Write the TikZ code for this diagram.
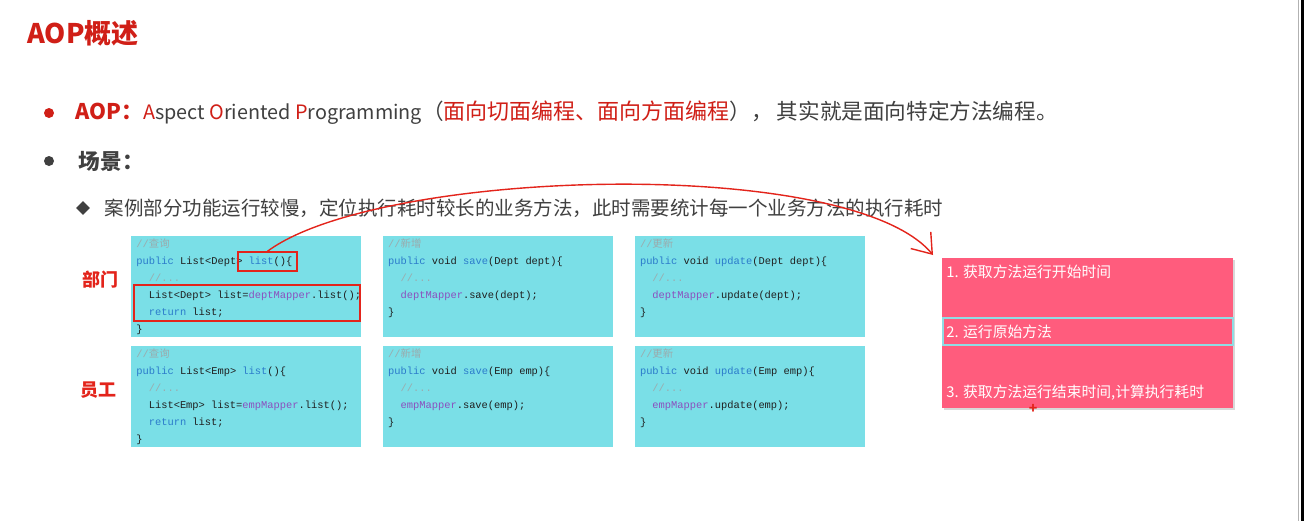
\documentclass[tikz,border=0pt]{standalone}
\usepackage{fontspec}
\setmainfont{Noto Sans CJK SC}
\newfontfamily\codefont{Liberation Mono}
\newfontfamily\cjkfont{Noto Sans CJK SC}
\usepackage{tikz}
\usetikzlibrary{arrows.meta,positioning,shapes.geometric,shadows}
\definecolor{aopRed}{HTML}{D01F17}
\definecolor{slideText}{HTML}{404040}
\definecolor{codeCyan}{HTML}{7ADFE7}
\definecolor{codeBlue}{HTML}{2B7BCB}
\definecolor{codePurple}{HTML}{8B4FBE}
\definecolor{codeGray}{HTML}{9AABAD}
\definecolor{codeInk}{HTML}{1F1F1F}
\definecolor{inkRed}{HTML}{E3241B}
\definecolor{stepPink}{HTML}{FF5C7D}
\definecolor{stepCyan}{HTML}{8EDDE4}
\newcommand\kw[1]{\textcolor{codeBlue}{#1}}
\newcommand\mapr[1]{\textcolor{codePurple}{#1}}
\newcommand\cmt[1]{\textcolor{codeGray}{#1}}
\newcommand\ind{\hspace*{6.2pt}}
\newcommand\codeblock[1]{\begin{minipage}[t][48pt][t]{110pt}\codefont\fontsize{5.2}{8.5}\selectfont\color{codeInk}#1\end{minipage}}
\tikzset{
  codebox/.style={
    fill=codeCyan,
    minimum width=115pt,
    minimum height=50.5pt,
    inner xsep=2pt,
    inner ysep=1.25pt,
    anchor=north west
  },
  bodytext/.style={
    font=\fontsize{9.75}{12}\selectfont,
    text=slideText,
    inner sep=0pt,
    anchor=west
  },
  dot/.style={circle, minimum size=5pt, inner sep=0pt},
  handlabel/.style={font=\fontsize{9}{10}\selectfont\bfseries, text=inkRed, inner sep=0pt},
  hilite/.style={draw=inkRed, line width=0.75pt, inner sep=0pt},
  stepbox/.style={
    fill=stepPink,
    minimum width=145.5pt,
    minimum height=75pt,
    drop shadow={shadow xshift=1.2pt, shadow yshift=-1.2pt, opacity=0.3}
  },
  steptext/.style={font=\fontsize{7.4}{9}\selectfont, text=white, inner sep=0pt, anchor=west},
  stepframe/.style={
    draw=stepCyan,
    line width=1pt,
    minimum width=145pt,
    minimum height=13.5pt,
    inner sep=0pt
  },
  inkarrow/.style={-{Straight Barb[length=9pt,width=13pt]}, line width=0.7pt, draw=inkRed}
}

\begin{document}
\begin{tikzpicture}[x=0.5pt, y=-0.5pt, node distance=4pt and 10.5pt]
  \fill[white] (0,0) rectangle (1304,521);
  \useasboundingbox (0,0) rectangle (1304,521);

  \node[font=\fontsize{13.5}{16}\selectfont\bfseries, text=aopRed, inner sep=0pt, anchor=west] (title) at (27,33) {AOP概述};

  \node[dot, fill=aopRed] (dotAop) at (49,113) {};
  \node[bodytext, font=\fontsize{10.8}{13}\selectfont, right=10.5pt of dotAop] (aopLine) {\textcolor{aopRed}{\bfseries AOP：}{\fontsize{9.9}{12}\selectfont\textcolor{aopRed}{A}spect \textcolor{aopRed}{O}riented \textcolor{aopRed}{P}rogramming}（\textcolor{aopRed}{\fontsize{11}{13}\selectfont 面向切面编程、面向方面编程}），\hspace{2pt}其实就是面向特定方法编程。};
  \node[dot, fill=slideText] (dotScene) at (49,161) {};
  \node[bodytext, font=\fontsize{10.8}{13}\selectfont\bfseries, right=12pt of dotScene] (sceneHead) {场景：};
  \node[diamond, fill=slideText, minimum size=7pt, inner sep=0pt] (diaCase) at (83,208) {};
  \node[bodytext, right=7pt of diaCase] (caseLine) {案例部分功能运行较慢，定位执行耗时较长的业务方法，此时需要统计每一个业务方法的执行耗时};

  \node[handlabel] (deptTag) at (100,280) {部门};
  \node[handlabel] (empTag) at (98,390) {员工};

  \node[codebox] (deptList) at (131,236) {\codeblock{\cmt{//{\cjkfont 查询}}\\
\kw{public} List<Dept> \kw{list}()\{\\
\ind\cmt{//...}\\
\mbox{\ind List<Dept> list=\mapr{deptMapper}.list();}\\
\ind\kw{return} list;\\
\}}};
  \node[codebox, right=of deptList] (deptSave) {\codeblock{\cmt{//{\cjkfont 新增}}\\
\kw{public} void \kw{save}(Dept dept)\{\\
\ind\cmt{//...}\\
\ind\mapr{deptMapper}.save(dept);\\
\}}};
  \node[codebox, right=of deptSave] (deptUpdate) {\codeblock{\cmt{//{\cjkfont 更新}}\\
\kw{public} void \kw{update}(Dept dept)\{\\
\ind\cmt{//...}\\
\ind\mapr{deptMapper}.update(dept);\\
\}}};
  \node[codebox, below=of deptList] (empList) {\codeblock{\cmt{//{\cjkfont 查询}}\\
\kw{public} List<Emp> \kw{list}()\{\\
\ind\cmt{//...}\\
\mbox{\ind List<Emp> list=\mapr{empMapper}.list();}\\
\ind\kw{return} list;\\
\}}};
  \node[codebox, below=of deptSave] (empSave) {\codeblock{\cmt{//{\cjkfont 新增}}\\
\kw{public} void \kw{save}(Emp emp)\{\\
\ind\cmt{//...}\\
\ind\mapr{empMapper}.save(emp);\\
\}}};
  \node[codebox, below=of deptUpdate] (empUpdate) {\codeblock{\cmt{//{\cjkfont 更新}}\\
\kw{public} void \kw{update}(Emp emp)\{\\
\ind\cmt{//...}\\
\ind\mapr{empMapper}.update(emp);\\
\}}};

  \node[hilite, minimum width=29.5pt, minimum height=9.5pt] (listSig) at (267.5,261.5) {};
  \node[hilite, minimum width=113pt, minimum height=18pt] (listBody) at (247,303) {};

  \node[stepbox] (timing) at (1087.5,333) {};
  \node[stepframe] (stepFrame) at (1087.5,331.5) {};
  \node[steptext] (stepOne) at (946,272) {1. 获取方法运行开始时间};
  \node[steptext] (stepTwo) at (946,331.5) {2. 运行原始方法};
  \node[steptext] (stepThree) at (946,393) {3. 获取方法运行结束时间,计算执行耗时};
  \node[text=inkRed, font=\fontsize{7}{7}\selectfont\bfseries, inner sep=0pt] (cursorMark) at (1033,409) {+};

  \coordinate (arrowTip) at (933,255);
  \draw[inkarrow] (listSig.north) .. controls (380,168) and (850,155) .. (arrowTip);

  % slide edge
  \draw[gray!60] (1298.5,0) -- (1298.5,521);
  \fill[black] (1300.5,0) rectangle (1304,521);
\end{tikzpicture}
\end{document}
